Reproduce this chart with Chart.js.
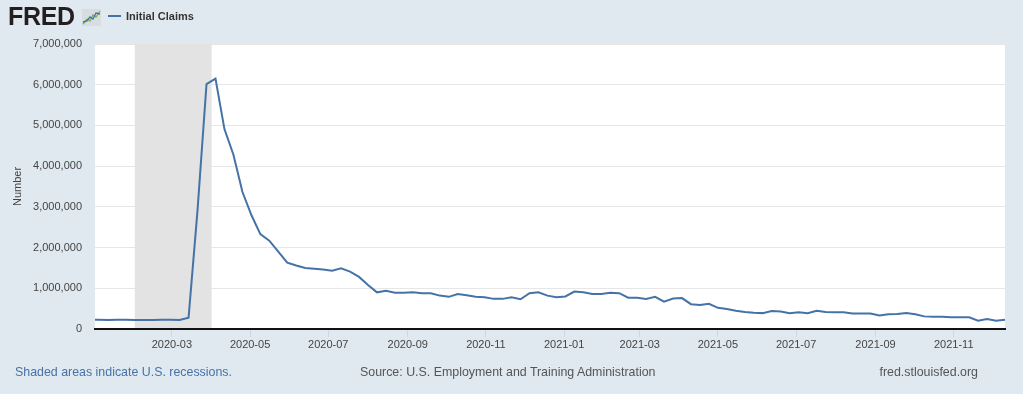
<!DOCTYPE html>
<html lang="en">
<head>
    <meta charset="UTF-8">
    <title>Initial Claims</title>
    <style>
        body {
            margin: 0;
            padding: 0;
            background-color: #e1e9f0;
            font-family: "Liberation Sans", Arial, sans-serif;
        }
        .wrap {
            position: relative;
            width: 1023px;
            height: 394px;
            overflow: hidden;
        }
        .logo {
            position: absolute;
            left: 8px;
            top: 2px;
            font-size: 25px;
            font-weight: bold;
            color: #231f20;
            letter-spacing: -0.3px;
        }
        .logo svg {
            position: absolute;
            left: 74px;
            top: 7px;
        }
        .legend {
            position: absolute;
            left: 108px;
            top: 10px;
            font-size: 11px;
            font-weight: bold;
            color: #333;
        }
        .legend span {
            display: inline-block;
            width: 13px;
            height: 2px;
            background: #4572a7;
            vertical-align: middle;
            margin-right: 5px;
            margin-top: -2px;
        }
        .foot {
            position: absolute;
            top: 365px;
            font-size: 12.4px;
            color: #555;
        }
        canvas {
            position: absolute;
            left: 0;
            top: 0;
        }
    </style>
</head>
<body>
<div class="wrap">
    <canvas id="claimsChart" width="1023" height="394"></canvas>
    <div class="logo">FRED<svg width="19" height="17" viewBox="0 0 19 17">
        <rect x="0" y="0" width="19" height="17" fill="#d9dde2"/>
        <polyline points="1,15 5,10 8,12 11,6 14,8 18,2" fill="none" stroke="#7ab648" stroke-width="1.3"/>
        <polyline points="1,13 5,12 8,8 11,10 14,4 18,5" fill="none" stroke="#4572a7" stroke-width="1.3"/>
    </svg></div>
    <div class="legend"><span></span>Initial Claims</div>
    <div class="foot" style="left:15px;color:#4572a7;">Shaded areas indicate U.S. recessions.</div>
    <div class="foot" style="left:360px;">Source: U.S. Employment and Training Administration</div>
    <div class="foot" style="right:45px;">fred.stlouisfed.org</div>
</div>

<script src="https://cdn.jsdelivr.net/npm/chart.js"></script>
<script>
    // weekly observations (week ending)
    const weeks = [
        '2019-12-28',
        '2020-01-04', '2020-01-11', '2020-01-18', '2020-01-25',
        '2020-02-01', '2020-02-08', '2020-02-15', '2020-02-22', '2020-02-29',
        '2020-03-07', '2020-03-14', '2020-03-21', '2020-03-28',
        '2020-04-04', '2020-04-11', '2020-04-18', '2020-04-25',
        '2020-05-02', '2020-05-09', '2020-05-16', '2020-05-23', '2020-05-30',
        '2020-06-06', '2020-06-13', '2020-06-20', '2020-06-27',
        '2020-07-04', '2020-07-11', '2020-07-18', '2020-07-25',
        '2020-08-01', '2020-08-08', '2020-08-15', '2020-08-22', '2020-08-29',
        '2020-09-05', '2020-09-12', '2020-09-19', '2020-09-26',
        '2020-10-03', '2020-10-10', '2020-10-17', '2020-10-24', '2020-10-31',
        '2020-11-07', '2020-11-14', '2020-11-21', '2020-11-28',
        '2020-12-05', '2020-12-12', '2020-12-19', '2020-12-26',
        '2021-01-02', '2021-01-09', '2021-01-16', '2021-01-23', '2021-01-30',
        '2021-02-06', '2021-02-13', '2021-02-20', '2021-02-27',
        '2021-03-06', '2021-03-13', '2021-03-20', '2021-03-27',
        '2021-04-03', '2021-04-10', '2021-04-17', '2021-04-24',
        '2021-05-01', '2021-05-08', '2021-05-15', '2021-05-22', '2021-05-29',
        '2021-06-05', '2021-06-12', '2021-06-19', '2021-06-26',
        '2021-07-03', '2021-07-10', '2021-07-17', '2021-07-24', '2021-07-31',
        '2021-08-07', '2021-08-14', '2021-08-21', '2021-08-28',
        '2021-09-04', '2021-09-11', '2021-09-18', '2021-09-25',
        '2021-10-02', '2021-10-09', '2021-10-16', '2021-10-23', '2021-10-30',
        '2021-11-06', '2021-11-13', '2021-11-20', '2021-11-27',
        '2021-12-04', '2021-12-11'
    ];

    const claims = [
        228000,
        225000, 222000, 230000, 226000,
        220000, 222000, 224000, 226000, 225000,
        224000, 280000, 2920000, 6015000,
        6149000, 4910000, 4280000, 3370000,
        2800000, 2330000, 2170000, 1900000, 1630000,
        1560000, 1500000, 1480000, 1460000,
        1430000, 1490000, 1410000, 1280000,
        1080000, 900000, 940000, 890000, 890000,
        900000, 880000, 880000, 820000,
        790000, 860000, 830000, 790000, 780000,
        740000, 740000, 780000, 730000,
        880000, 900000, 820000, 780000,
        800000, 920000, 900000, 860000, 860000,
        890000, 880000, 770000, 770000,
        740000, 790000, 670000, 750000,
        760000, 610000, 590000, 620000,
        520000, 490000, 450000, 420000, 400000,
        390000, 440000, 430000, 390000,
        410000, 390000, 450000, 420000, 410000,
        410000, 380000, 380000, 380000,
        330000, 360000, 370000, 390000,
        360000, 310000, 300000, 300000, 290000,
        290000, 290000, 205000, 245000,
        205000, 230000
    ];

    const tickDates = ['2020-03-01', '2020-05-01', '2020-07-01', '2020-09-01', '2020-11-01',
        '2021-01-01', '2021-03-01', '2021-05-01', '2021-07-01', '2021-09-01', '2021-11-01'];
    const tickLabels = ['2020-03', '2020-05', '2020-07', '2020-09', '2020-11',
        '2021-01', '2021-03', '2021-05', '2021-07', '2021-09', '2021-11'];

    const rangeStart = '2020-01-01';
    const rangeEnd = '2021-12-11';
    const recession = ['2020-02-01', '2020-04-01'];

    // days since start of range, used as the x value
    function day(d) {
        return (Date.parse(d) - Date.parse(rangeStart)) / 86400000;
    }

    const points = weeks.map((w, i) => ({ x: day(w), y: claims[i] }));

    const plotBg = {
        id: 'plotBg',
        beforeDraw(chart) {
            const a = chart.chartArea;
            const c = chart.ctx;
            c.save();
            c.fillStyle = '#ffffff';
            c.fillRect(a.left, a.top, a.right - a.left, a.bottom - a.top);
            c.restore();
        },
        beforeDatasetsDraw(chart) {
            const a = chart.chartArea;
            const x = chart.scales.x;
            const x0 = x.getPixelForValue(day(recession[0]));
            const x1 = x.getPixelForValue(day(recession[1]));
            const c = chart.ctx;
            c.save();
            c.fillStyle = '#e3e3e3';
            c.fillRect(x0, a.top, x1 - x0, a.bottom - a.top - 1);
            c.restore();
        }
    };

    const ctx = document.getElementById('claimsChart').getContext('2d');
    new Chart(ctx, {
        type: 'line',
        data: {
            datasets: [{
                label: 'Initial Claims',
                data: points,
                borderColor: '#4572a7',
                borderWidth: 2,
                pointRadius: 0,
                tension: 0,
                fill: false
            }]
        },
        options: {
            responsive: false,
            animation: false,
            devicePixelRatio: 1,
            layout: { padding: { top: 44, right: 18, bottom: 0, left: 0 } },
            plugins: {
                legend: { display: false },
                tooltip: { enabled: false }
            },
            scales: {
                x: {
                    type: 'linear',
                    min: day(rangeStart),
                    max: day(rangeEnd),
                    afterBuildTicks(scale) {
                        scale.ticks = tickDates.map(d => ({ value: day(d) }));
                    },
                    afterFit(scale) {
                        scale.height = 65;
                    },
                    grid: {
                        drawOnChartArea: false,
                        drawTicks: true,
                        tickLength: 8,
                        color: '#ccd6eb'
                    },
                    border: { display: true, color: '#111', width: 2 },
                    ticks: {
                        autoSkip: false,
                        maxRotation: 0,
                        padding: 1,
                        color: '#444',
                        font: { family: '"Liberation Sans", Arial, sans-serif', size: 11 },
                        callback: (v, i) => tickLabels[i]
                    }
                },
                y: {
                    min: 0,
                    max: 7000000,
                    afterFit(scale) {
                        scale.width = 95;
                    },
                    grid: { color: '#e6e6e6', drawTicks: false },
                    border: { display: false },
                    ticks: {
                        stepSize: 1000000,
                        padding: 13,
                        color: '#444',
                        font: { family: '"Liberation Sans", Arial, sans-serif', size: 11 },
                        callback: v => v.toLocaleString('en-US')
                    },
                    title: {
                        display: true,
                        text: 'Number',
                        color: '#444',
                        padding: { top: 11, bottom: 0 },
                        font: { family: '"Liberation Sans", Arial, sans-serif', size: 11 }
                    }
                }
            }
        },
        plugins: [plotBg]
    });
</script>
</body>
</html>
